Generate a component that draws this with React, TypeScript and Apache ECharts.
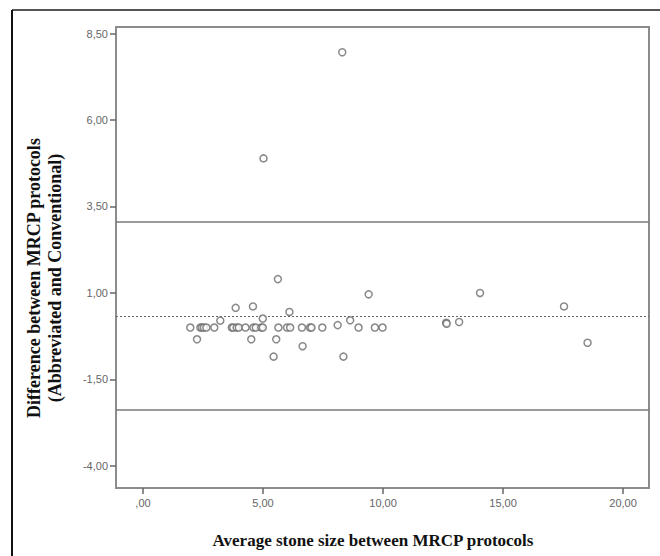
import React, { useEffect, useRef } from "react";
import * as echarts from "echarts";

// Bland–Altman data: average stone size (x) and difference (y)
const avgSize: number[] = [
  8.30, 5.02, 5.62, 9.40, 14.04, 17.54, 18.52, 3.86, 4.58, 6.10, 4.99, 3.22, 8.63, 12.63, 12.65, 13.17, 8.11,
  1.97, 2.39, 2.46, 2.54, 2.64, 2.97, 3.70, 3.76, 3.90, 3.99, 4.27, 4.60, 4.70, 4.93, 4.99, 5.64, 6.00, 6.13,
  6.62, 6.96, 7.02, 7.47, 8.98, 9.66, 9.98,
  2.25, 4.51, 5.55, 6.65, 5.44, 8.35,
];
const diffValues: number[] = [
  7.96, 4.89, 1.40, 0.96, 1.00, 0.61, -0.44, 0.57, 0.61, 0.45, 0.26, 0.20, 0.21, 0.14, 0.11, 0.16, 0.07,
  0, 0, 0, 0, 0, 0, 0, 0, 0, 0, 0, 0, 0, 0, 0, 0, 0, 0,
  0, 0, 0, 0, 0, 0, 0,
  -0.34, -0.34, -0.34, -0.54, -0.84, -0.84,
];
const meanDiff = 0.34;
const upperLimit = 3.07;
const lowerLimit = -2.39;

const xTicks: number[] = [0, 5, 10, 15, 20];
const yTicks: number[] = [-4, -1.5, 1, 3.5, 6, 8.5];
const xTitle = "Average stone size between MRCP protocols";
const yTitle = "Difference between MRCP protocols\n(Abbreviated and Conventional)";

const fmt = (v: number): string => {
  const s = v.toFixed(2).replace(".", ",");
  return s.startsWith("0,") ? s.slice(1) : s.startsWith("-0,") ? "-" + s.slice(2) : s;
};

export default function App() {
  const ref = useRef<HTMLDivElement>(null);
  useEffect(() => {
    if (!ref.current) return;
    const chart = echarts.init(ref.current, null, { renderer: "svg" });
    const points = avgSize.map((x, i) => [x, diffValues[i]]);
    const labelFont = "'Liberation Sans', Arial, sans-serif";
    const serif = "'Liberation Serif', 'Times New Roman', serif";
    chart.setOption({
      animation: false,
      backgroundColor: "#fff",
      grid: {
        left: 116,
        top: 27,
        right: 11,
        bottom: 68,
        show: true,
        borderColor: "#8c8c8c",
        borderWidth: 2,
        backgroundColor: "transparent",
      },
      xAxis: {
        type: "value",
        min: -1.125,
        max: 21.08,
        splitLine: { show: false },
        axisLine: { show: false, onZero: false },
        axisTick: { show: true, customValues: xTicks, length: 6, lineStyle: { color: "#666", width: 1.5 } },
        axisLabel: {
          customValues: xTicks,
          formatter: (v: number) => fmt(v),
          color: "#666",
          fontSize: 11,
          fontFamily: labelFont,
          margin: 9,
        },
      },
      yAxis: {
        type: "value",
        min: -4.64,
        max: 8.69,
        splitLine: { show: false },
        axisLine: { show: false, onZero: false },
        axisTick: { show: true, customValues: yTicks, length: 6, lineStyle: { color: "#666", width: 1.5 } },
        axisLabel: {
          customValues: yTicks,
          formatter: (v: number) => fmt(v),
          color: "#666",
          fontSize: 11,
          fontFamily: labelFont,
          margin: 8,
        },
      },
      graphic: [
        { type: "line", shape: { x1: 12, y1: 10, x2: 660, y2: 10 }, style: { stroke: "#555", lineWidth: 2 } },
        { type: "line", shape: { x1: 12, y1: 10, x2: 12, y2: 556 }, style: { stroke: "#111", lineWidth: 2 } },
        {
          type: "text",
          x: 373,
          y: 540,
          style: {
            text: xTitle,
            font: `bold 17px ${serif}`,
            fill: "#111",
            textAlign: "center",
            textVerticalAlign: "middle",
          },
        },
        {
          type: "text",
          x: 44,
          y: 278,
          rotation: Math.PI / 2,
          style: {
            text: yTitle,
            font: `bold 18px ${serif}`,
            fill: "#111",
            textAlign: "center",
            textVerticalAlign: "middle",
            lineHeight: 21,
          },
        },
      ],
      series: [
        {
          type: "scatter",
          data: points,
          symbol: "circle",
          symbolSize: 7,
          itemStyle: { color: "#fff", borderColor: "#6a6a6a", borderWidth: 1.5 },
          z: 5,
        },
        {
          type: "line",
          data: [],
          markLine: {
            silent: true,
            symbol: "none",
            label: { show: false },
            data: [
              { yAxis: upperLimit, lineStyle: { color: "#7a7a7a", width: 1.5, type: "solid" } },
              { yAxis: lowerLimit, lineStyle: { color: "#7a7a7a", width: 1.5, type: "solid" } },
              { yAxis: meanDiff, lineStyle: { color: "#666", width: 1, type: [2, 2] } },
            ],
          },
        },
      ],
    });
    return () => chart.dispose();
  }, []);
  return <div ref={ref} style={{ position: "absolute", left: 0, top: 0, width: 660, height: 556 }} />;
}
